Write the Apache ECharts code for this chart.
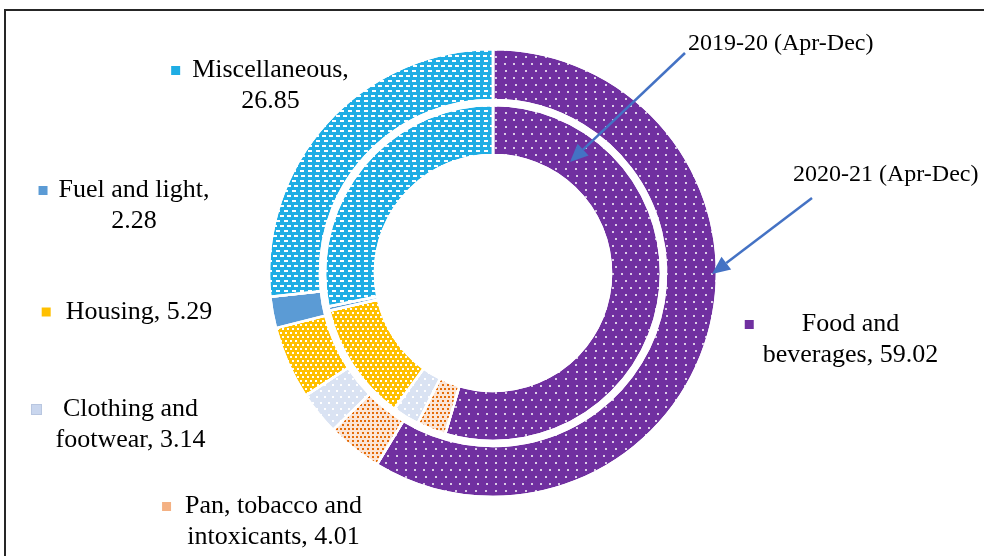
<!DOCTYPE html>
<html>
<head>
<meta charset="utf-8">
<script src="https://cdn.jsdelivr.net/npm/echarts@6/dist/echarts.min.js"></script>
<style>html,body{margin:0;padding:0;background:#fff}#c{width:984px;height:556px}</style>
</head>
<body>
<div id="c"></div>
<script>
// ---- data ----
const categories = ['Food and beverages', 'Pan, tobacco and intoxicants', 'Clothing and footwear', 'Housing', 'Fuel and light', 'Miscellaneous'];
const labelNames = ['Food and\nbeverages', 'Pan, tobacco and\nintoxicants', 'Clothing and\nfootwear', 'Housing', 'Fuel and light', 'Miscellaneous'];
const values2021 = [59.02, 4.01, 3.14, 5.29, 2.28, 26.85];
const values2019 = [54.6, 2.8, 2.6, 11.4, 0.4, 28.2];
const seriesNames = ['2019-20 (Apr-Dec)', '2020-21 (Apr-Dec)'];

// ---- styles ----
const colors = ['#7030A0', '#FBE5D6', '#DAE3F3', '#FFC000', '#5B9BD5', '#1FADE4'];
const markerColors = ['#7030A0', '#F4B183', '#C9D6EE', '#FFC000', '#5B9BD5', '#1FADE4'];
const decals = [
  {symbol: 'circle', symbolSize: 1, color: '#ffffff', dashArrayX: [[2, 7], [0, 4.5, 2, 2.5]], dashArrayY: [2, 5]},
  {symbol: 'rect', symbolSize: 1, color: '#E46C0A', dashArrayX: [[1.5, 2], [0, 1.75, 1.5, 0.25]], dashArrayY: [1.5, 1.5]},
  {symbol: 'rect', symbolSize: 1, color: '#ffffff', dashArrayX: [[2, 6], [0, 4, 2, 2]], dashArrayY: [2, 4]},
  {symbol: 'rect', symbolSize: 1, color: '#ffffff', dashArrayX: [[1.5, 2.5], [0, 2, 1.5, 0.5]], dashArrayY: [1.5, 1.5]},
  'none',
  {symbol: 'rect', symbolSize: 1, color: '#ffffff', dashArrayX: [[4, 3], [0, 3.5, 4, 0]], dashArrayY: [1.5, 3]}
];
const breakAfterComma = [false, false, false, false, true, true];
const markerGap = [48, 14, 22, 15, 11, 12];
const labelPos = [[822, 340], [262, 522], [115, 425], [127, 312], [124, 206], [260, 86]];
const center = [493, 273];

const rich = {};
categories.forEach((c, i) => {
  rich['m' + i] = {width: 9, height: 9, backgroundColor: markerColors[i], borderColor: i === 2 ? '#b8c6e0' : 'transparent', borderWidth: 1};
  rich['g' + i] = {width: markerGap[i], height: 1};
  rich['s' + i] = {width: markerGap[i] + 9, height: 1};
});

function makeData(vals) {
  return categories.map((c, i) => ({
    name: c,
    value: vals[i],
    itemStyle: {color: colors[i], decal: decals[i] === 'none' ? {symbol: 'none'} : decals[i]}
  }));
}

function fmt(p) {
  const i = p.dataIndex;
  const full = labelNames[i] + (breakAfterComma[i] ? ',\n' : ', ') + p.value.toFixed(2);
  const lines = full.split('\n');
  return lines.map((l, k) => (k === 0 ? '{m' + i + '|}{g' + i + '|}' : '{s' + i + '|}') + l).join('\n');
}

function arrow(x1, y1, x2, y2) {
  const ang = Math.atan2(y2 - y1, x2 - x1);
  const len = 18, half = 8;
  const bx = x2 - len * Math.cos(ang), by = y2 - len * Math.sin(ang);
  const px = -Math.sin(ang) * half, py = Math.cos(ang) * half;
  return [
    {type: 'line', shape: {x1: x1, y1: y1, x2: bx, y2: by}, style: {stroke: '#4472C4', lineWidth: 2.5}, silent: true, z: 100},
    {type: 'polygon', shape: {points: [[x2, y2], [bx + px, by + py], [bx - px, by - py]]}, style: {fill: '#4472C4'}, silent: true, z: 100}
  ];
}

const chart = echarts.init(document.getElementById('c'), null, {renderer: 'canvas'});
const option = {
  animation: false,
  backgroundColor: '#ffffff',
  textStyle: {fontFamily: 'Liberation Serif'},
  graphic: [
    {type: 'rect', shape: {x: 5, y: 10, width: 1100, height: 700}, style: {fill: 'none', stroke: '#262626', lineWidth: 2}, silent: true, z: 0},
    {type: 'text', left: 688, top: 32, style: {text: seriesNames[0], font: '24px "Liberation Serif"', fill: '#000'}, z: 100},
    {type: 'text', left: 793, top: 163, style: {text: seriesNames[1], font: '24px "Liberation Serif"', fill: '#000'}, z: 100}
  ].concat(arrow(685, 53, 570, 162)).concat(arrow(812, 198, 712, 274)),
  series: [
    {
      name: seriesNames[0],
      type: 'pie',
      center: center,
      radius: [118, 168],
      startAngle: 90,
      clockwise: true,
      silent: true,
      avoidLabelOverlap: false,
      label: {show: false},
      labelLine: {show: false},
      itemStyle: {borderColor: '#ffffff', borderWidth: 2.5},
      data: makeData(values2019)
    },
    {
      name: seriesNames[1],
      type: 'pie',
      center: center,
      radius: [173, 224],
      startAngle: 90,
      clockwise: true,
      silent: true,
      avoidLabelOverlap: false,
      itemStyle: {borderColor: '#ffffff', borderWidth: 2.5},
      label: {
        show: true,
        formatter: fmt,
        rich: rich,
        fontFamily: 'Liberation Serif',
        fontSize: 26,
        lineHeight: 31,
        color: '#000',
        align: 'center'
      },
      labelLine: {show: false},
      labelLayout: function (p) {
        const pos = labelPos[p.dataIndex];
        return {x: pos[0], y: pos[1], align: 'center', verticalAlign: 'middle', hideOverlap: false};
      },
      data: makeData(values2021)
    }
  ]
};
chart.setOption(option);
</script>
</body>
</html>
